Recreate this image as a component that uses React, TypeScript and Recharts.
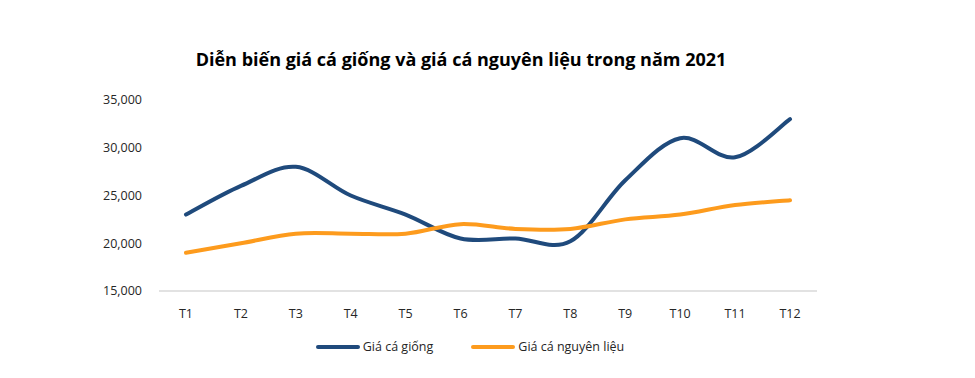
import React from 'react';
import { LineChart, Line, XAxis, YAxis, Legend } from 'recharts';

const months = ['T1', 'T2', 'T3', 'T4', 'T5', 'T6', 'T7', 'T8', 'T9', 'T10', 'T11', 'T12'];
const giaCaGiong = [23000, 26000, 28000, 25000, 23000, 20500, 20500, 20200, 26600, 31000, 29000, 33000];
const giaCaNguyenLieu = [19000, 20000, 21000, 21000, 21000, 22000, 21500, 21500, 22500, 23000, 24000, 24500];
const yTicks = [15000, 20000, 25000, 30000, 35000];

const data = months.map((m, i) => ({
  name: m,
  giong: giaCaGiong[i],
  nguyenLieu: giaCaNguyenLieu[i],
}));

const FONT = '"Open Sans", "Liberation Sans", sans-serif';

// Excel-style smoothed line (Catmull-Rom), passed to Recharts as a curve factory
const smoothCurve = (context: any) => {
  let pts: number[][] = [];
  return {
    areaStart() {},
    areaEnd() {},
    lineStart() {
      pts = [];
    },
    point(x: number, y: number) {
      pts.push([+x, +y]);
    },
    lineEnd() {
      const n = pts.length;
      if (!n) return;
      context.moveTo(pts[0][0], pts[0][1]);
      for (let i = 0; i < n - 1; i++) {
        const p0 = pts[Math.max(i - 1, 0)];
        const p1 = pts[i];
        const p2 = pts[i + 1];
        const p3 = pts[Math.min(i + 2, n - 1)];
        context.bezierCurveTo(
          p1[0] + (p2[0] - p0[0]) / 6,
          p1[1] + (p2[1] - p0[1]) / 6,
          p2[0] - (p3[0] - p1[0]) / 6,
          p2[1] - (p3[1] - p1[1]) / 6,
          p2[0],
          p2[1],
        );
      }
    },
  };
};

const renderLegend = () => {
  const items = [
    { label: 'Giá cá giống', color: '#1f4a7c' },
    { label: 'Giá cá nguyên liệu', color: '#fd9b1d' },
  ];
  return (
    <div style={{ display: 'flex', justifyContent: 'center', gap: 38, fontFamily: FONT, fontSize: 12.5, color: '#262626' }}>
      {items.map((it) => (
        <div key={it.label} style={{ display: 'flex', alignItems: 'center' }}>
          <span style={{ display: 'inline-block', width: 44, height: 4, borderRadius: 2, background: it.color, marginRight: 3 }} />
          <span>{it.label}</span>
        </div>
      ))}
    </div>
  );
};

const App: React.FC = () => {
  return (
    <div style={{ position: 'absolute', top: 0, left: 0, width: 975, height: 378, background: '#fff' }}>
      <div
        style={{
          position: 'absolute',
          top: 47,
          left: 0,
          width: 922,
          textAlign: 'center',
          fontFamily: FONT,
          fontWeight: 700,
          fontSize: 18,
          color: '#000',
        }}
      >
        Diễn biến giá cá giống và giá cá nguyên liệu trong năm 2021
      </div>
      <LineChart width={975} height={378} data={data} margin={{ top: 100, right: 158, left: 99, bottom: 40 }}>
        <XAxis
          dataKey="name"
          padding={{ left: 27, right: 27 }}
          axisLine={{ stroke: '#d9d9d9', strokeWidth: 1.5 }}
          tickLine={false}
          tickMargin={12}
          tick={{ fill: '#262626', fontSize: 12.5, fontFamily: FONT }}
        />
        <YAxis
          domain={[15000, 35000]}
          ticks={yTicks}
          width={60}
          axisLine={false}
          tickLine={false}
          tickSize={0}
          tickMargin={17}
          tickFormatter={(v: number) => v.toLocaleString('en-US')}
          tick={{ fill: '#262626', fontSize: 12.5, fontFamily: FONT }}
        />
        <Legend content={renderLegend} wrapperStyle={{ top: 338, left: 0, width: 940 }} />
        <Line type={smoothCurve as any} dataKey="giong" stroke="#1f4a7c" strokeWidth={4} dot={false} isAnimationActive={false} strokeLinecap="round" />
        <Line type={smoothCurve as any} dataKey="nguyenLieu" stroke="#fd9b1d" strokeWidth={4} dot={false} isAnimationActive={false} strokeLinecap="round" />
      </LineChart>
    </div>
  );
};

export default App;
